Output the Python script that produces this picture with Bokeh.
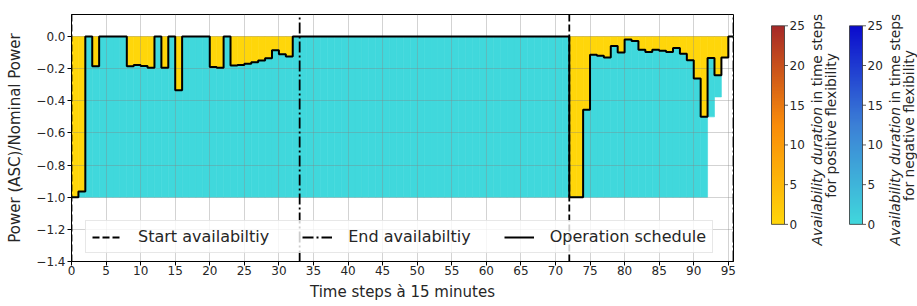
import numpy as np
from bokeh.plotting import figure
from bokeh.layouts import row
from bokeh.models import (ColumnDataSource, FixedTicker, CustomJSTickFormatter, Legend,
                          LegendItem, LinearColorMapper, Range1d)
from bokeh.core.properties import value
from bokeh.embed import file_html
from bokeh.resources import INLINE

# ---------------- data ----------------
time_steps = list(range(96))

schedule = [
    -1.0, -0.965, 0.0, -0.185, 0.0, 0.0, 0.0, 0.0,
    -0.185, -0.178, -0.183, -0.195, 0.0, -0.195, 0.0, -0.335,
    0.0, 0.0, 0.0, 0.0, -0.19, -0.195, 0.0, -0.18,
    -0.177, -0.17, -0.16, -0.15, -0.135, -0.085, -0.11, -0.125,
    0.0, 0.0, 0.0, 0.0, 0.0, 0.0, 0.0, 0.0,
    0.0, 0.0, 0.0, 0.0, 0.0, 0.0, 0.0, 0.0,
    0.0, 0.0, 0.0, 0.0, 0.0, 0.0, 0.0, 0.0,
    0.0, 0.0, 0.0, 0.0, 0.0, 0.0, 0.0, 0.0,
    0.0, 0.0, 0.0, 0.0, 0.0, 0.0, 0.0, 0.0,
    -1.0, -1.0, -0.455, -0.113, -0.12, -0.131, -0.059, -0.1,
    -0.019, -0.028, -0.082, -0.096, -0.082, -0.088, -0.096, -0.071,
    -0.107, -0.148, -0.262, -0.5, -0.134, -0.241, -0.131, 0.0,
]

neg_flex_lower = [
    -1.0, -1.0, -1.0, -1.0, -1.0, -1.0, -1.0, -1.0, -1.0, -1.0, -1.0, -1.0,
    -1.0, -1.0, -1.0, -1.0, -1.0, -1.0, -1.0, -1.0, -1.0, -1.0, -1.0, -1.0,
    -1.0, -1.0, -1.0, -1.0, -1.0, -1.0, -1.0, -1.0, -1.0, -1.0, -1.0, -1.0,
    -1.0, -1.0, -1.0, -1.0, -1.0, -1.0, -1.0, -1.0, -1.0, -1.0, -1.0, -1.0,
    -1.0, -1.0, -1.0, -1.0, -1.0, -1.0, -1.0, -1.0, -1.0, -1.0, -1.0, -1.0,
    -1.0, -1.0, -1.0, -1.0, -1.0, -1.0, -1.0, -1.0, -1.0, -1.0, -1.0, -1.0,
    -1.0, -1.0, -1.0, -1.0, -1.0, -1.0, -1.0, -1.0, -1.0, -1.0, -1.0, -1.0,
    -1.0, -1.0, -1.0, -1.0, -1.0, -1.0, -1.0, -1.0, -0.5, -0.376, -0.131, 0.0,
]

start_availability = [0, 72]
end_availability = [33, 95.75]

x_ticks = [0, 5, 10, 15, 20, 25, 30, 35, 40, 45, 50, 55, 60, 65, 70, 75, 80, 85, 90, 95]
y_ticks = [-1.4, -1.2, -1.0, -0.8, -0.6, -0.4, -0.2, 0.0]
cbar_ticks = [0, 5, 10, 15, 20, 25]
duration_max = 25

legend_labels = ["Start availabiltiy", "End availabiltiy", "Operation schedule"]
x_label = "Time steps à 15 minutes"
y_label = "Power (ASC)/Nominal Power"
cbar_line1_italic = "Availability duration"
cbar_line1_rest = "in time steps"
cbar_line2 = ["for positive flexibility", "for negative flexibility"]

# ---------------- style ----------------
FONT = "DejaVu Sans"
TEXT = "#262626"
POS_COLOR = "#FFD60A"
NEG_COLOR = "#40D8DC"
POS_ANCHORS = [(0.0, (255, 214, 10)), (0.5, (250, 140, 10)), (1.0, (165, 40, 40))]
NEG_ANCHORS = [(0.0, (64, 216, 220)), (0.5, (60, 128, 214)), (1.0, (10, 10, 205))]
FIG_H = 306
CB_FONT = "13.8px"


def make_palette(anchors, n=256):
    pos = np.array([a[0] for a in anchors])
    cols = np.array([a[1] for a in anchors], dtype=float)
    out = []
    for v in np.linspace(0, 1, n):
        rgb = [int(round(np.interp(v, pos, cols[:, k]))) for k in range(3)]
        out.append("#%02x%02x%02x" % tuple(rgb))
    return out


# ---------------- main figure ----------------
x_end = end_availability[-1]
p = figure(width=743, height=FIG_H, x_range=Range1d(0, x_end), y_range=Range1d(-1.4, 0.137),
           output_backend="svg", toolbar_location=None,
           min_border_left=71, min_border_right=10, min_border_top=14, min_border_bottom=45)

left = time_steps
right = [t + 1 for t in time_steps]
pos_src = ColumnDataSource(dict(left=left, right=right, top=[0.0] * len(time_steps), bottom=schedule))
neg_src = ColumnDataSource(dict(left=left, right=right, top=schedule, bottom=neg_flex_lower))

p.quad(left="left", right="right", top="top", bottom="bottom", source=pos_src,
       fill_color=POS_COLOR, line_color=POS_COLOR, line_width=0.6, level="image")
p.quad(left="left", right="right", top="top", bottom="bottom", source=neg_src,
       fill_color=NEG_COLOR, line_color=NEG_COLOR, line_width=0.6, level="image")

y0 = p.y_range.start
y1 = p.y_range.end
r_start = p.segment(x0=start_availability, x1=start_availability, y0=y0, y1=y1,
                    line_color="black", line_width=1.8, line_dash="7 3")
r_end = p.segment(x0=end_availability, x1=end_availability, y0=y0, y1=y1,
                  line_color="black", line_width=1.8, line_dash="11 3 2 3")

step_x = time_steps + [time_steps[-1] + 1]
step_y = schedule + [schedule[-1]]
r_sched = p.step(step_x, step_y, mode="after", line_color="black", line_width=2)

p.xaxis.ticker = FixedTicker(ticks=x_ticks)
p.yaxis.ticker = FixedTicker(ticks=y_ticks)
p.yaxis.formatter = CustomJSTickFormatter(
    code="const v = Math.abs(tick) < 1e-9 ? 0 : tick; return v.toFixed(1).replace('-', '\u2212');")
p.xaxis.axis_label = x_label
p.yaxis.axis_label = y_label
for ax in (p.xaxis[0], p.yaxis[0]):
    ax.major_tick_out = 4
    ax.major_tick_in = 0
    ax.minor_tick_out = 0
    ax.minor_tick_in = 0
    ax.axis_line_color = "black"
    ax.major_tick_line_color = "black"
    ax.major_label_text_font = FONT
    ax.major_label_text_font_size = "12px"
    ax.major_label_text_color = TEXT
    ax.axis_label_text_font = FONT
    ax.axis_label_text_font_size = "15px"
    ax.axis_label_text_font_style = "normal"
    ax.axis_label_text_color = TEXT
p.xaxis.major_label_standoff = 0
p.xaxis.axis_label_standoff = 5
p.yaxis.major_label_standoff = 2
p.yaxis.axis_label_standoff = 9

p.grid.grid_line_color = "gray"
p.grid.grid_line_alpha = 0.35
p.grid.grid_line_width = 1
p.outline_line_color = "black"
p.outline_line_width = 1

legend = Legend(items=[LegendItem(label=legend_labels[0], renderers=[r_start]),
                       LegendItem(label=legend_labels[1], renderers=[r_end]),
                       LegendItem(label=legend_labels[2], renderers=[r_sched])],
                location=(14, 8), orientation="horizontal", margin=0, padding=6,
                spacing=33, glyph_width=30, glyph_height=16, label_height=16, label_standoff=16,
                label_text_font=FONT, label_text_font_size="16px", label_text_color=TEXT,
                background_fill_color="white", background_fill_alpha=0.8,
                border_line_color="#d0d0d0", border_line_width=1)
p.add_layout(legend)

# ---------------- colorbars (one panel, pixel-like x units) ----------------
CB_W = 917 - 743
BAR_TOP_PX, BAR_BOT_PX = 14, 260          # vertical extent of the bars on the page
upp = duration_max / (BAR_BOT_PX - BAR_TOP_PX)   # data units per pixel
cb = figure(width=CB_W, height=FIG_H, x_range=Range1d(0, CB_W),
            y_range=Range1d(-(FIG_H - BAR_BOT_PX) * upp, duration_max + BAR_TOP_PX * upp),
            output_backend="svg", toolbar_location=None, x_axis_location=None,
            y_axis_location=None, min_border=0)
cb.grid.visible = False
cb.outline_line_color = None

grad = np.linspace(0, duration_max, 256).reshape(-1, 1)
bar_lefts = [28, 106]
bar_w = 13
label_center_px = 137.5
italic_end_px = 114.6      # page y where the italic part ends
space_px = 4.6             # blank between the two parts
for i, (anchors, bx) in enumerate(zip([POS_ANCHORS, NEG_ANCHORS], bar_lefts)):
    mapper = LinearColorMapper(palette=make_palette(anchors), low=0, high=duration_max)
    cb.image(image=[grad], x=bx, y=0, dw=bar_w, dh=duration_max, color_mapper=mapper)
    cb.quad(left=bx, right=bx + bar_w, bottom=0, top=duration_max,
            fill_color=None, line_color="#333333", line_width=0.8)
    cb.segment(x0=bx + bar_w, x1=bx + bar_w + 3.5, y0=cbar_ticks, y1=cbar_ticks,
               line_color="#333333", line_width=0.8)
    cb.text(x=bx + bar_w + 5, y=cbar_ticks, text=[str(t) for t in cbar_ticks],
            text_font=value(FONT), text_font_size="12px", text_color=TEXT,
            text_align="left", text_baseline="middle")
    center_y = (BAR_BOT_PX - label_center_px) * upp
    italic_end_y = (BAR_BOT_PX - italic_end_px) * upp
    rest_start_y = (BAR_BOT_PX - italic_end_px + space_px) * upp
    cb.text(x=bx + 45, y=italic_end_y, text=[cbar_line1_italic], angle=np.pi / 2,
            text_font=value(FONT), text_font_size=CB_FONT, text_font_style="italic",
            text_color=TEXT, text_align="right", text_baseline="middle")
    cb.text(x=bx + 45, y=rest_start_y, text=[cbar_line1_rest], angle=np.pi / 2,
            text_font=value(FONT), text_font_size=CB_FONT, text_color=TEXT,
            text_align="left", text_baseline="middle")
    cb.text(x=bx + 59.5, y=center_y, text=[cbar_line2[i]], angle=np.pi / 2,
            text_font=value(FONT), text_font_size=CB_FONT, text_color=TEXT,
            text_align="center", text_baseline="middle")

layout = row(p, cb)
open("out.html", "w").write(file_html(layout, INLINE))
